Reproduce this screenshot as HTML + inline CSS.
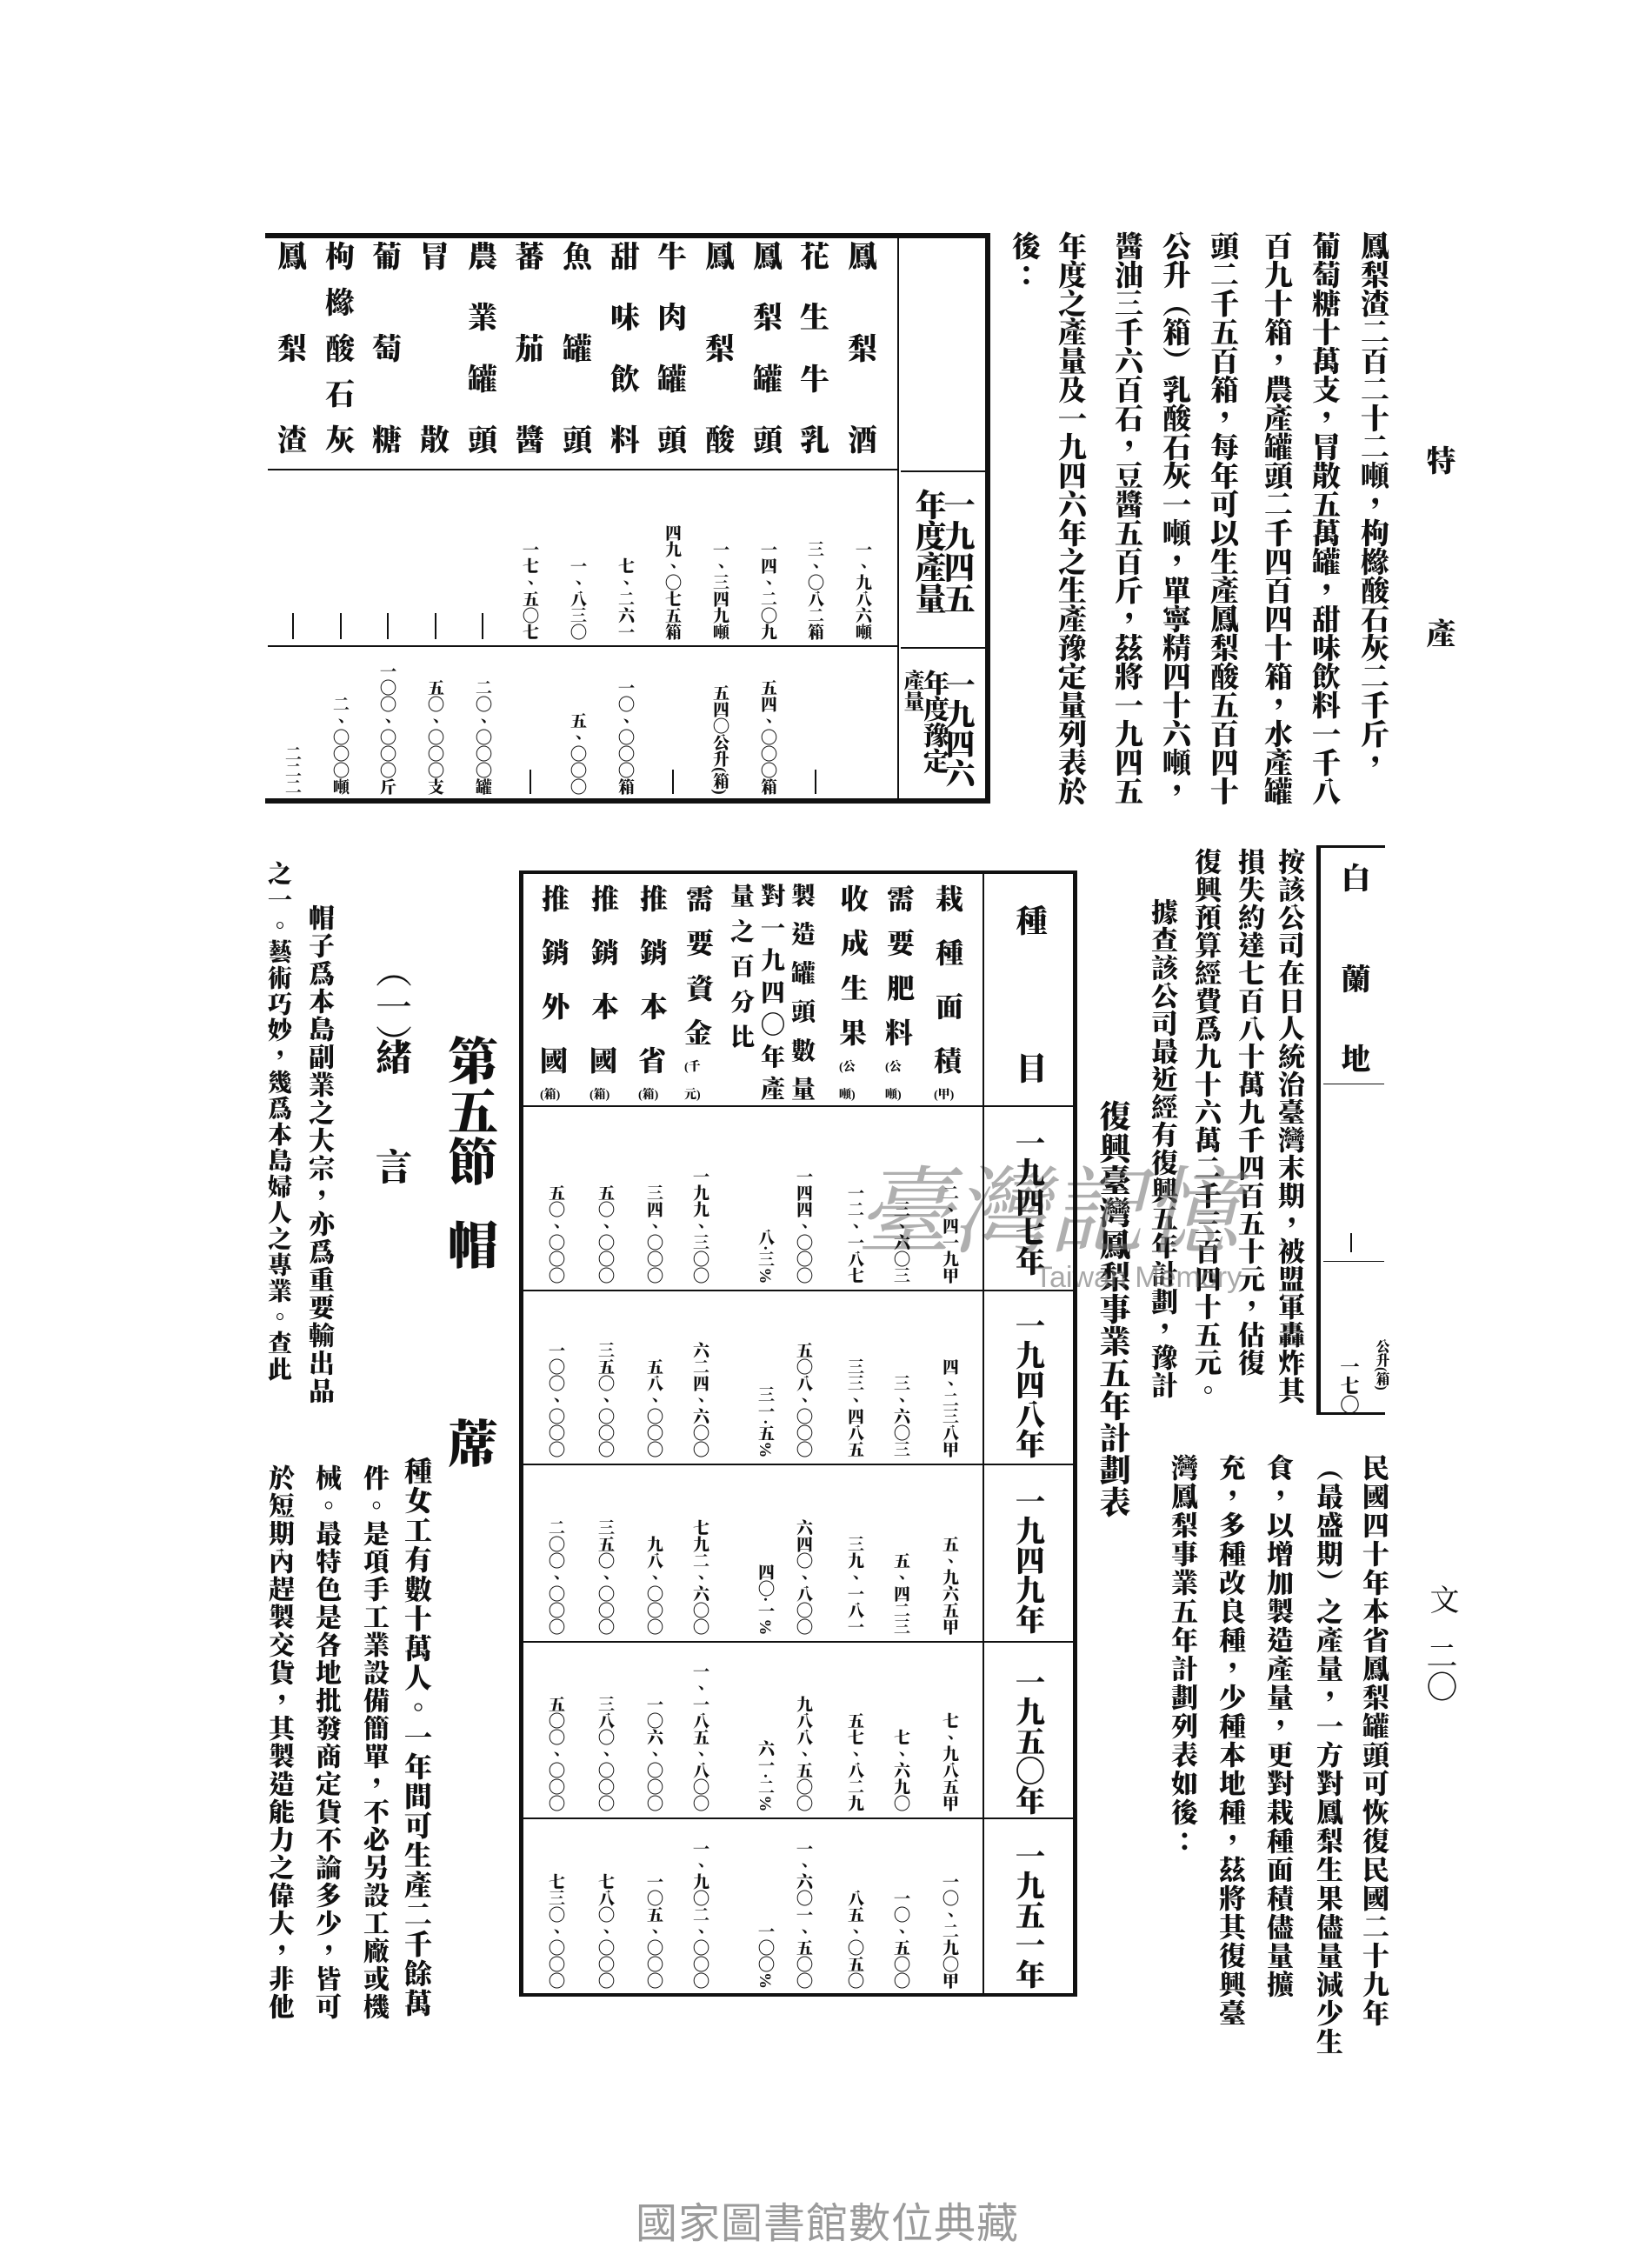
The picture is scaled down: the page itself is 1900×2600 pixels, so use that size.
<!DOCTYPE html>
<html><head><meta charset="utf-8">
<style>
html,body{margin:0;padding:0;background:#fff;}
body{width:1900px;height:2600px;position:relative;overflow:hidden;}
.v{position:absolute;writing-mode:vertical-rl;font-family:"Liberation Serif","Noto Serif CJK TC","Noto Sans CJK TC",serif;font-weight:900;color:#111;line-height:1;white-space:nowrap;}
.l{position:absolute;background:#111;}
.fx{position:absolute;display:flex;flex-direction:column;justify-content:space-between;align-items:center;font-family:"Liberation Serif","Noto Serif CJK TC","Noto Sans CJK TC",serif;font-weight:900;color:#111;line-height:1;}
.n{font-size:19px;}
</style></head><body>

<!-- header -->
<div class="v" style="left:1636px;top:512px;font-size:34px;">特</div>
<div class="v" style="left:1636px;top:711px;font-size:34px;">產</div>
<div class="v" style="left:1640px;top:1822px;font-size:34px;font-weight:400;">文</div>
<div class="v" style="left:1638px;top:1885px;font-size:36px;font-weight:400;">二〇</div>

<!-- top right paragraph -->
<div class="v" style="left:1561px;top:266px;font-size:33px;">鳳梨渣二百二十二噸，枸櫞酸石灰二千斤，</div>
<div class="v" style="left:1505px;top:266px;font-size:33px;">葡萄糖十萬支，冐散五萬罐，甜味飲料一千八</div>
<div class="v" style="left:1450px;top:266px;font-size:33px;">百九十箱，農產罐頭二千四百四十箱，水產罐</div>
<div class="v" style="left:1388px;top:266px;font-size:33px;">頭二千五百箱，每年可以生產鳳梨酸五百四十</div>
<div class="v" style="left:1333px;top:266px;font-size:33px;">公升（箱）乳酸石灰一噸，單寧精四十六噸，</div>
<div class="v" style="left:1278px;top:266px;font-size:33px;">醬油三千六百石，豆醬五百斤，茲將一九四五</div>
<div class="v" style="left:1213px;top:266px;font-size:33px;">年度之產量及一九四六年之生產豫定量列表於</div>
<div class="v" style="left:1160px;top:266px;font-size:33px;">後：</div>

<!-- top-left table -->
<div class="l" style="left:305px;top:268px;width:834px;height:6px;"></div>
<div class="l" style="left:305px;top:918px;width:834px;height:6px;"></div>
<div class="l" style="left:1133px;top:268px;width:6px;height:656px;"></div>
<div class="l" style="left:1032px;top:274px;width:2px;height:644px;"></div>
<div class="l" style="left:308px;top:539px;width:724px;height:2px;"></div>
<div class="l" style="left:1036px;top:541px;width:97px;height:2px;"></div>
<div class="l" style="left:308px;top:742px;width:724px;height:2px;"></div>
<div class="l" style="left:1036px;top:744px;width:97px;height:2px;"></div>

<div class="v" style="left:1083px;top:562px;font-size:36px;">一九四五</div>
<div class="v" style="left:1050px;top:562px;font-size:36px;">年度產量</div>
<div class="v" style="left:1083px;top:770px;font-size:34px;">一九四六</div>
<div class="v" style="left:1058px;top:770px;font-size:30px;">年度豫定</div>
<div class="v" style="left:1036px;top:770px;font-size:24px;">產量</div>

<div class="fx" style="left:972px;top:280px;width:40px;height:245px;font-size:34px;"><span>鳳</span><span>梨</span><span>酒</span></div>
<div class="fx" style="left:917px;top:280px;width:40px;height:245px;font-size:34px;"><span>花</span><span>生</span><span>牛</span><span>乳</span></div>
<div class="fx" style="left:863px;top:280px;width:40px;height:245px;font-size:34px;"><span>鳳</span><span>梨</span><span>罐</span><span>頭</span></div>
<div class="fx" style="left:808px;top:280px;width:40px;height:245px;font-size:34px;"><span>鳳</span><span>梨</span><span>酸</span></div>
<div class="fx" style="left:753px;top:280px;width:40px;height:245px;font-size:34px;"><span>牛</span><span>肉</span><span>罐</span><span>頭</span></div>
<div class="fx" style="left:699px;top:280px;width:40px;height:245px;font-size:34px;"><span>甜</span><span>味</span><span>飲</span><span>料</span></div>
<div class="fx" style="left:644px;top:280px;width:40px;height:245px;font-size:34px;"><span>魚</span><span>罐</span><span>頭</span></div>
<div class="fx" style="left:589px;top:280px;width:40px;height:245px;font-size:34px;"><span>蕃</span><span>茄</span><span>醬</span></div>
<div class="fx" style="left:535px;top:280px;width:40px;height:245px;font-size:34px;"><span>農</span><span>業</span><span>罐</span><span>頭</span></div>
<div class="fx" style="left:480px;top:280px;width:40px;height:245px;font-size:34px;"><span>冐</span><span>散</span></div>
<div class="fx" style="left:425px;top:280px;width:40px;height:245px;font-size:34px;"><span>葡</span><span>萄</span><span>糖</span></div>
<div class="fx" style="left:371px;top:280px;width:40px;height:245px;font-size:34px;"><span>枸</span><span>櫞</span><span>酸</span><span>石</span><span>灰</span></div>
<div class="fx" style="left:316px;top:280px;width:40px;height:245px;font-size:34px;"><span>鳳</span><span>梨</span><span>渣</span></div>

<!-- 1945 values -->
<div class="v n" style="left:982px;bottom:1864px;">一、九八六噸</div>
<div class="v n" style="left:927px;bottom:1864px;">三、〇八二箱</div>
<div class="v n" style="left:873px;bottom:1864px;">一四、二〇九</div>
<div class="v n" style="left:818px;bottom:1864px;">一、三四九噸</div>
<div class="v n" style="left:763px;bottom:1864px;">四九、〇七五箱</div>
<div class="v n" style="left:709px;bottom:1864px;">七、二六一</div>
<div class="v n" style="left:654px;bottom:1864px;">一、八三〇</div>
<div class="v n" style="left:599px;bottom:1864px;">一七、五〇七</div>
<div class="l" style="left:554px;top:705px;width:2px;height:30px;"></div>
<div class="l" style="left:500px;top:705px;width:2px;height:30px;"></div>
<div class="l" style="left:445px;top:705px;width:2px;height:30px;"></div>
<div class="l" style="left:391px;top:705px;width:2px;height:30px;"></div>
<div class="l" style="left:336px;top:705px;width:2px;height:30px;"></div>

<!-- 1946 values -->
<div class="l" style="left:937px;top:885px;width:2px;height:28px;"></div>
<div class="v n" style="left:873px;bottom:1686px;">五四、〇〇〇箱</div>
<div class="v n" style="left:818px;bottom:1686px;">五四〇公升(箱)</div>
<div class="l" style="left:773px;top:885px;width:2px;height:28px;"></div>
<div class="v n" style="left:709px;bottom:1686px;">一〇、〇〇〇箱</div>
<div class="v n" style="left:654px;bottom:1686px;">五、〇〇〇</div>
<div class="l" style="left:609px;top:885px;width:2px;height:28px;"></div>
<div class="v n" style="left:545px;bottom:1686px;">二〇、〇〇〇罐</div>
<div class="v n" style="left:490px;bottom:1686px;">五〇、〇〇〇支</div>
<div class="v n" style="left:435px;bottom:1686px;">一〇〇、〇〇〇斤</div>
<div class="v n" style="left:381px;bottom:1686px;">二、〇〇〇噸</div>
<div class="v n" style="left:326px;bottom:1686px;">二二二</div>

<!-- 白蘭地 box -->
<div class="l" style="left:1515px;top:972px;width:78px;height:3px;"></div>
<div class="l" style="left:1514px;top:972px;width:5px;height:655px;"></div>
<div class="l" style="left:1515px;top:1624px;width:78px;height:3px;"></div>
<div class="v" style="left:1538px;top:992px;font-size:34px;">白</div>
<div class="v" style="left:1538px;top:1108px;font-size:34px;">蘭</div>
<div class="v" style="left:1538px;top:1200px;font-size:34px;">地</div>
<div class="l" style="left:1522px;top:1246px;width:70px;height:1px;"></div>
<div class="l" style="left:1522px;top:1450px;width:70px;height:1px;"></div>
<div class="l" style="left:1553px;top:1418px;width:2px;height:22px;"></div>
<div class="v" style="left:1580px;top:1540px;font-size:16px;">公升(箱)</div>
<div class="v" style="left:1540px;top:1560px;font-size:22px;">一七〇</div>

<!-- right middle paragraph -->
<div class="v" style="left:1467px;top:975px;font-size:31px;letter-spacing:1px;">按該公司在日人統治臺灣末期，被盟軍轟炸其</div>
<div class="v" style="left:1421px;top:975px;font-size:31px;letter-spacing:1px;">損失約達七百八十萬九千四百五十元，估復</div>
<div class="v" style="left:1371px;top:975px;font-size:31px;letter-spacing:1px;">復興預算經費爲九十六萬二千三百四十五元。</div>
<div class="v" style="left:1321px;top:1033px;font-size:31px;letter-spacing:1px;">據查該公司最近經有復興五年計劃，豫計</div>
<div class="v" style="left:1262px;top:1265px;font-size:36px;letter-spacing:1px;">復興臺灣鳳梨事業五年計劃表</div>

<div class="v" style="left:1564px;top:1672px;font-size:31px;letter-spacing:2px;">民國四十年本省鳳梨罐頭可恢復民國二十九年</div>
<div class="v" style="left:1511px;top:1672px;font-size:31px;letter-spacing:2px;">（最盛期）之產量，一方對鳳梨生果儘量減少生</div>
<div class="v" style="left:1454px;top:1672px;font-size:31px;letter-spacing:2px;">食，以增加製造產量，更對栽種面積儘量擴</div>
<div class="v" style="left:1399px;top:1672px;font-size:31px;letter-spacing:2px;">充，多種改良種，少種本地種，茲將其復興臺</div>
<div class="v" style="left:1344px;top:1672px;font-size:31px;letter-spacing:2px;">灣鳳梨事業五年計劃列表如後：</div>

<!-- watermark -->
<div style="position:absolute;left:985px;top:1330px;font-family:'Noto Serif CJK TC',serif;font-size:110px;color:rgba(110,110,110,0.55);font-style:italic;white-space:nowrap;line-height:1;">臺灣記憶</div>
<div style="position:absolute;left:1190px;top:1450px;font-family:'Liberation Sans',sans-serif;font-size:34px;color:rgba(110,110,110,0.6);white-space:nowrap;">Taiwan Memory</div>

<!-- middle table -->
<div class="l" style="left:597px;top:1001px;width:642px;height:4px;"></div>
<div class="l" style="left:597px;top:2292px;width:642px;height:4px;"></div>
<div class="l" style="left:597px;top:1001px;width:5px;height:1295px;"></div>
<div class="l" style="left:1234px;top:1001px;width:5px;height:1295px;"></div>
<div class="l" style="left:1130px;top:1005px;width:2px;height:1287px;"></div>
<div class="l" style="left:602px;top:1271px;width:632px;height:2px;"></div>
<div class="l" style="left:602px;top:1483px;width:632px;height:2px;"></div>
<div class="l" style="left:602px;top:1683px;width:632px;height:2px;"></div>
<div class="l" style="left:602px;top:1887px;width:632px;height:2px;"></div>
<div class="l" style="left:602px;top:2090px;width:632px;height:2px;"></div>

<div class="v" style="left:1166px;top:1040px;font-size:36px;">種</div>
<div class="v" style="left:1166px;top:1210px;font-size:36px;">目</div>
<div class="fx" style="left:1160px;top:1300px;width:50px;height:160px;font-size:34px;"><span>一</span><span>九</span><span>四</span><span>七</span><span>年</span></div>
<div class="fx" style="left:1160px;top:1510px;width:50px;height:160px;font-size:34px;"><span>一</span><span>九</span><span>四</span><span>八</span><span>年</span></div>
<div class="fx" style="left:1160px;top:1712px;width:50px;height:160px;font-size:34px;"><span>一</span><span>九</span><span>四</span><span>九</span><span>年</span></div>
<div class="fx" style="left:1160px;top:1920px;width:50px;height:160px;font-size:34px;"><span>一</span><span>九</span><span>五</span><span>〇</span><span>年</span></div>
<div class="fx" style="left:1160px;top:2120px;width:50px;height:160px;font-size:34px;"><span>一</span><span>九</span><span>五</span><span>一</span><span>年</span></div>

<div class="fx" style="left:1074px;top:1018px;width:36px;height:250px;font-size:32px;"><span>栽</span><span>種</span><span>面</span><span>積<small style="font-size:14px">(甲)</small></span></div>
<div class="fx" style="left:1018px;top:1018px;width:36px;height:250px;font-size:32px;"><span>需</span><span>要</span><span>肥</span><span>料<small style="font-size:14px">(公噸)</small></span></div>
<div class="fx" style="left:965px;top:1018px;width:36px;height:250px;font-size:32px;"><span>收</span><span>成</span><span>生</span><span>果<small style="font-size:14px">(公噸)</small></span></div>
<div class="fx" style="left:908px;top:1018px;width:32px;height:250px;font-size:28px;"><span>製</span><span>造</span><span>罐</span><span>頭</span><span>數</span><span>量</span></div>
<div class="fx" style="left:873px;top:1018px;width:32px;height:250px;font-size:28px;"><span>對</span><span>一</span><span>九</span><span>四</span><span>〇</span><span>年</span><span>產</span></div>
<div class="fx" style="left:838px;top:1018px;width:32px;height:190px;font-size:28px;"><span>量</span><span>之</span><span>百</span><span>分</span><span>比</span></div>
<div class="fx" style="left:787px;top:1018px;width:36px;height:250px;font-size:32px;"><span>需</span><span>要</span><span>資</span><span>金<small style="font-size:14px">(千元)</small></span></div>
<div class="fx" style="left:734px;top:1018px;width:36px;height:250px;font-size:32px;"><span>推</span><span>銷</span><span>本</span><span>省<small style="font-size:14px">(箱)</small></span></div>
<div class="fx" style="left:678px;top:1018px;width:36px;height:250px;font-size:32px;"><span>推</span><span>銷</span><span>本</span><span>國<small style="font-size:14px">(箱)</small></span></div>
<div class="fx" style="left:621px;top:1018px;width:36px;height:250px;font-size:32px;"><span>推</span><span>銷</span><span>外</span><span>國<small style="font-size:14px">(箱)</small></span></div>

<!-- row 1947 -->
<div class="v n" style="left:1082px;bottom:1124px;">二、四一九甲</div>
<div class="v n" style="left:1026px;bottom:1124px;">三、六〇三</div>
<div class="v n" style="left:973px;bottom:1124px;">一二、一八七</div>
<div class="v n" style="left:914px;bottom:1124px;">一四四、〇〇〇</div>
<div class="v n" style="left:870px;bottom:1124px;">八·三%</div>
<div class="v n" style="left:795px;bottom:1124px;">一九九、三〇〇</div>
<div class="v n" style="left:742px;bottom:1124px;">三四、〇〇〇</div>
<div class="v n" style="left:686px;bottom:1124px;">五〇、〇〇〇</div>
<div class="v n" style="left:629px;bottom:1124px;">五〇、〇〇〇</div>
<!-- row 1948 -->
<div class="v n" style="left:1082px;bottom:924px;">四、二三八甲</div>
<div class="v n" style="left:1026px;bottom:924px;">三、六〇三</div>
<div class="v n" style="left:973px;bottom:924px;">三三、四八五</div>
<div class="v n" style="left:914px;bottom:924px;">五〇八、〇〇〇</div>
<div class="v n" style="left:870px;bottom:924px;">三一·五%</div>
<div class="v n" style="left:795px;bottom:924px;">六二四、六〇〇</div>
<div class="v n" style="left:742px;bottom:924px;">五八、〇〇〇</div>
<div class="v n" style="left:686px;bottom:924px;">三五〇、〇〇〇</div>
<div class="v n" style="left:629px;bottom:924px;">一〇〇、〇〇〇</div>
<!-- row 1949 -->
<div class="v n" style="left:1082px;bottom:720px;">五、九六五甲</div>
<div class="v n" style="left:1026px;bottom:720px;">五、四二三</div>
<div class="v n" style="left:973px;bottom:720px;">三九、一八一</div>
<div class="v n" style="left:914px;bottom:720px;">六四〇、八〇〇</div>
<div class="v n" style="left:870px;bottom:720px;">四〇·一%</div>
<div class="v n" style="left:795px;bottom:720px;">七九二、六〇〇</div>
<div class="v n" style="left:742px;bottom:720px;">九八、〇〇〇</div>
<div class="v n" style="left:686px;bottom:720px;">三五〇、〇〇〇</div>
<div class="v n" style="left:629px;bottom:720px;">二〇〇、〇〇〇</div>
<!-- row 1950 -->
<div class="v n" style="left:1082px;bottom:517px;">七、九八五甲</div>
<div class="v n" style="left:1026px;bottom:517px;">七、六九〇</div>
<div class="v n" style="left:973px;bottom:517px;">五七、八二九</div>
<div class="v n" style="left:914px;bottom:517px;">九八八、五〇〇</div>
<div class="v n" style="left:870px;bottom:517px;">六一·二%</div>
<div class="v n" style="left:795px;bottom:517px;">一、一八五、八〇〇</div>
<div class="v n" style="left:742px;bottom:517px;">一〇六、〇〇〇</div>
<div class="v n" style="left:686px;bottom:517px;">三八〇、〇〇〇</div>
<div class="v n" style="left:629px;bottom:517px;">五〇〇、〇〇〇</div>
<!-- row 1951 -->
<div class="v n" style="left:1082px;bottom:313px;">一〇、二九〇甲</div>
<div class="v n" style="left:1026px;bottom:313px;">一〇、五〇〇</div>
<div class="v n" style="left:973px;bottom:313px;">八五、〇五〇</div>
<div class="v n" style="left:914px;bottom:313px;">一、六〇一、五〇〇</div>
<div class="v n" style="left:870px;bottom:313px;">一〇〇%</div>
<div class="v n" style="left:795px;bottom:313px;">一、九〇二、〇〇〇</div>
<div class="v n" style="left:742px;bottom:313px;">一〇五、〇〇〇</div>
<div class="v n" style="left:686px;bottom:313px;">七八〇、〇〇〇</div>
<div class="v n" style="left:629px;bottom:313px;">七三〇、〇〇〇</div>

<!-- section heading -->
<div class="v" style="left:509px;top:1190px;font-size:58px;">第五節</div>
<div class="v" style="left:509px;top:1402px;font-size:58px;">帽</div>
<div class="v" style="left:509px;top:1630px;font-size:58px;">蓆</div>
<div class="v" style="left:428px;top:1094px;font-size:42px;font-weight:400;">（一）</div>
<div class="v" style="left:428px;top:1194px;font-size:42px;">緒</div>
<div class="v" style="left:428px;top:1320px;font-size:42px;">言</div>

<!-- left paragraphs -->
<div class="v" style="left:351px;top:1040px;font-size:30px;letter-spacing:2px;">帽子爲本島副業之大宗，亦爲重要輸出品</div>
<div class="v" style="left:305px;top:990px;font-size:28px;letter-spacing:2px;">之一。藝術巧妙，幾爲本島婦人之專業。查此</div>
<div class="v" style="left:463px;top:1675px;font-size:32px;letter-spacing:2px;">種女工有數十萬人。一年間可生產二千餘萬</div>
<div class="v" style="left:414px;top:1684px;font-size:30px;letter-spacing:2px;">件。是項手工業設備簡單，不必另設工廠或機</div>
<div class="v" style="left:359px;top:1684px;font-size:30px;letter-spacing:2px;">械。最特色是各地批發商定貨不論多少，皆可</div>
<div class="v" style="left:305px;top:1684px;font-size:30px;letter-spacing:2px;">於短期內趕製交貨，其製造能力之偉大，非他</div>

<!-- footer -->
<div style="position:absolute;left:729px;top:2534px;width:445px;text-align:center;font-family:'Liberation Sans','Noto Sans CJK TC',sans-serif;font-size:48px;color:#9a9a9a;white-space:nowrap;line-height:1;letter-spacing:1px;">國家圖書館數位典藏</div>
</body></html>
